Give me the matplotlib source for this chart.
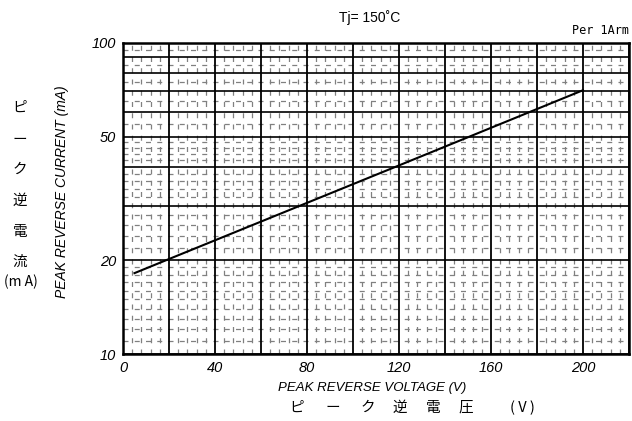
import matplotlib
matplotlib.use("Agg")
import matplotlib.pyplot as plt
import numpy as np

# Data
voltage = [5, 20, 120, 200]
current = [18.2, 20.2, 40.4, 70.5]
x_ticks = [0, 40, 80, 120, 160, 200]
y_ticks = [10, 20, 50, 100]
y_tick_labels = ["10", "20", "50", "100"]
y_major_lines = [10, 20, 30, 40, 50, 60, 70, 80, 90, 100]
y_minor_lines = [11, 12, 13, 14, 15, 16, 17, 18, 19,
                 22, 24, 26, 28, 32, 34, 36, 38, 42, 44, 46, 48,
                 55, 65, 75, 85, 95]
x_major_lines = list(range(0, 221, 20))
x_minor_lines = [v for v in range(0, 221, 4) if v % 20 != 0]

title = "Tj= 150\u02daC"
note = "Per 1Arm"
xlabel_en = "PEAK REVERSE VOLTAGE (V)"
xlabel_jp_chars = ["ピ", "ー", "ク", "逆", "電", "圧", "( V )"]
ylabel_en = "PEAK REVERSE CURRENT (mA)"
ylabel_jp_chars = ["ピ", "ー", "ク", "逆", "電", "流"]
ylabel_jp_unit = "(m A)"

narrow = ["Liberation Sans", "DejaVu Sans"]
jp = ["Noto Sans CJK JP", "DejaVu Sans"]

fig = plt.figure(figsize=(6.32, 4.21), dpi=100)
ax = fig.add_axes([123 / 632, 1 - 354 / 421, (629 - 123) / 632, (354 - 43) / 421])
ax.set_yscale("log")
ax.set_xlim(0, 220)
ax.set_ylim(10, 100)

# grid
for y in y_minor_lines:
    ax.axhline(y, color="#808080", lw=0.9, ls=(0, (4, 5)), zorder=1)
for x in x_minor_lines:
    ax.axvline(x, color="#808080", lw=0.9, ls=(0, (4, 5)), zorder=1)
for y in y_major_lines:
    ax.axhline(y, color="black", lw=1.2, zorder=2)
for x in x_major_lines:
    ax.axvline(x, color="black", lw=1.3, zorder=2)

ax.plot(voltage, current, color="black", lw=1.5, zorder=3)

for s in ax.spines.values():
    s.set_linewidth(1.8)
    s.set_color("black")

ax.set_xticks(x_ticks)
ax.set_xticklabels([str(v) for v in x_ticks], family=narrow, style="italic", fontsize=10.5)
ax.set_yticks(y_ticks)
ax.set_yticklabels(y_tick_labels, family=narrow, style="italic", fontsize=10.5)
ax.yaxis.set_minor_locator(matplotlib.ticker.NullLocator())
ax.tick_params(axis="both", length=0, pad=5)

fig.text(370 / 632, 1 - 18 / 421, title, ha="center", va="center",
         family=narrow, fontsize=10)
fig.text(629 / 632, 1 - 31 / 421, note, ha="right", va="center",
         family=["DejaVu Sans Mono", "DejaVu Sans"], fontsize=8.5)
fig.text(372 / 632, 1 - 388 / 421, xlabel_en, ha="center", va="center",
         family=narrow, style="italic", fontsize=9.5)
jp_x = [297, 333, 368, 400, 433, 466, 522]
for ch, xx in zip(xlabel_jp_chars, jp_x):
    fig.text(xx / 632, 1 - 408 / 421, ch, ha="center", va="center",
             family=jp, fontsize=10.5)
fig.text(62 / 632, 1 - 192 / 421, ylabel_en, ha="center", va="center",
         rotation=90, family=narrow, style="italic", fontsize=10)
jp_y = [108, 140, 170, 201, 232, 262]
for ch, yy in zip(ylabel_jp_chars, jp_y):
    fig.text(20 / 632, 1 - yy / 421, ch, ha="center", va="center",
             family=jp, fontsize=10.5)
fig.text(21 / 632, 1 - 282 / 421, ylabel_jp_unit, ha="center", va="center",
         family=jp, fontsize=10)

fig.savefig("out.png", dpi=100)
